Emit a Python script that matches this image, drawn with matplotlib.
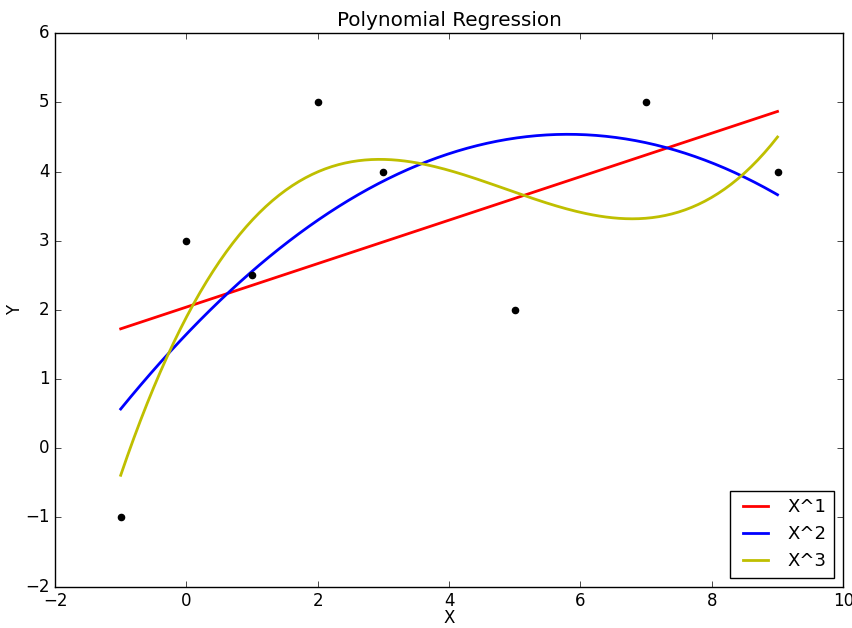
import numpy as np
import matplotlib
matplotlib.use('Agg')
import matplotlib.pyplot as plt

plt.style.use('classic')

# data points
x_pts = [-1, 0, 1, 2, 3, 5, 7, 9]
y_pts = [-1, 3, 2.5, 5, 4, 2, 5, 4]

degrees = [1, 2, 3]
colors = ['r', 'b', 'y']
labels = ['X^1', 'X^2', 'X^3']

fig = plt.figure(figsize=(8.53, 6.28), dpi=100)
ax = fig.add_axes([0.0645, 0.066, 0.924, 0.881])

xs = np.linspace(min(x_pts), max(x_pts), 200)
for deg, c, lab in zip(degrees, colors, labels):
    coef = np.polyfit(x_pts, y_pts, deg)
    ax.plot(xs, np.polyval(coef, xs), color=c, lw=2, label=lab)

ax.scatter(x_pts, y_pts, color='k', s=20, zorder=3)

ax.set_xlim(-2, 10)
ax.set_ylim(-2, 6)
ax.set_title('Polynomial Regression')
ax.set_xlabel('X', labelpad=-1)
ax.set_ylabel('Y', labelpad=1)
ax.legend(loc='lower right', fontsize=13)

fig.savefig('out.png', dpi=100)
